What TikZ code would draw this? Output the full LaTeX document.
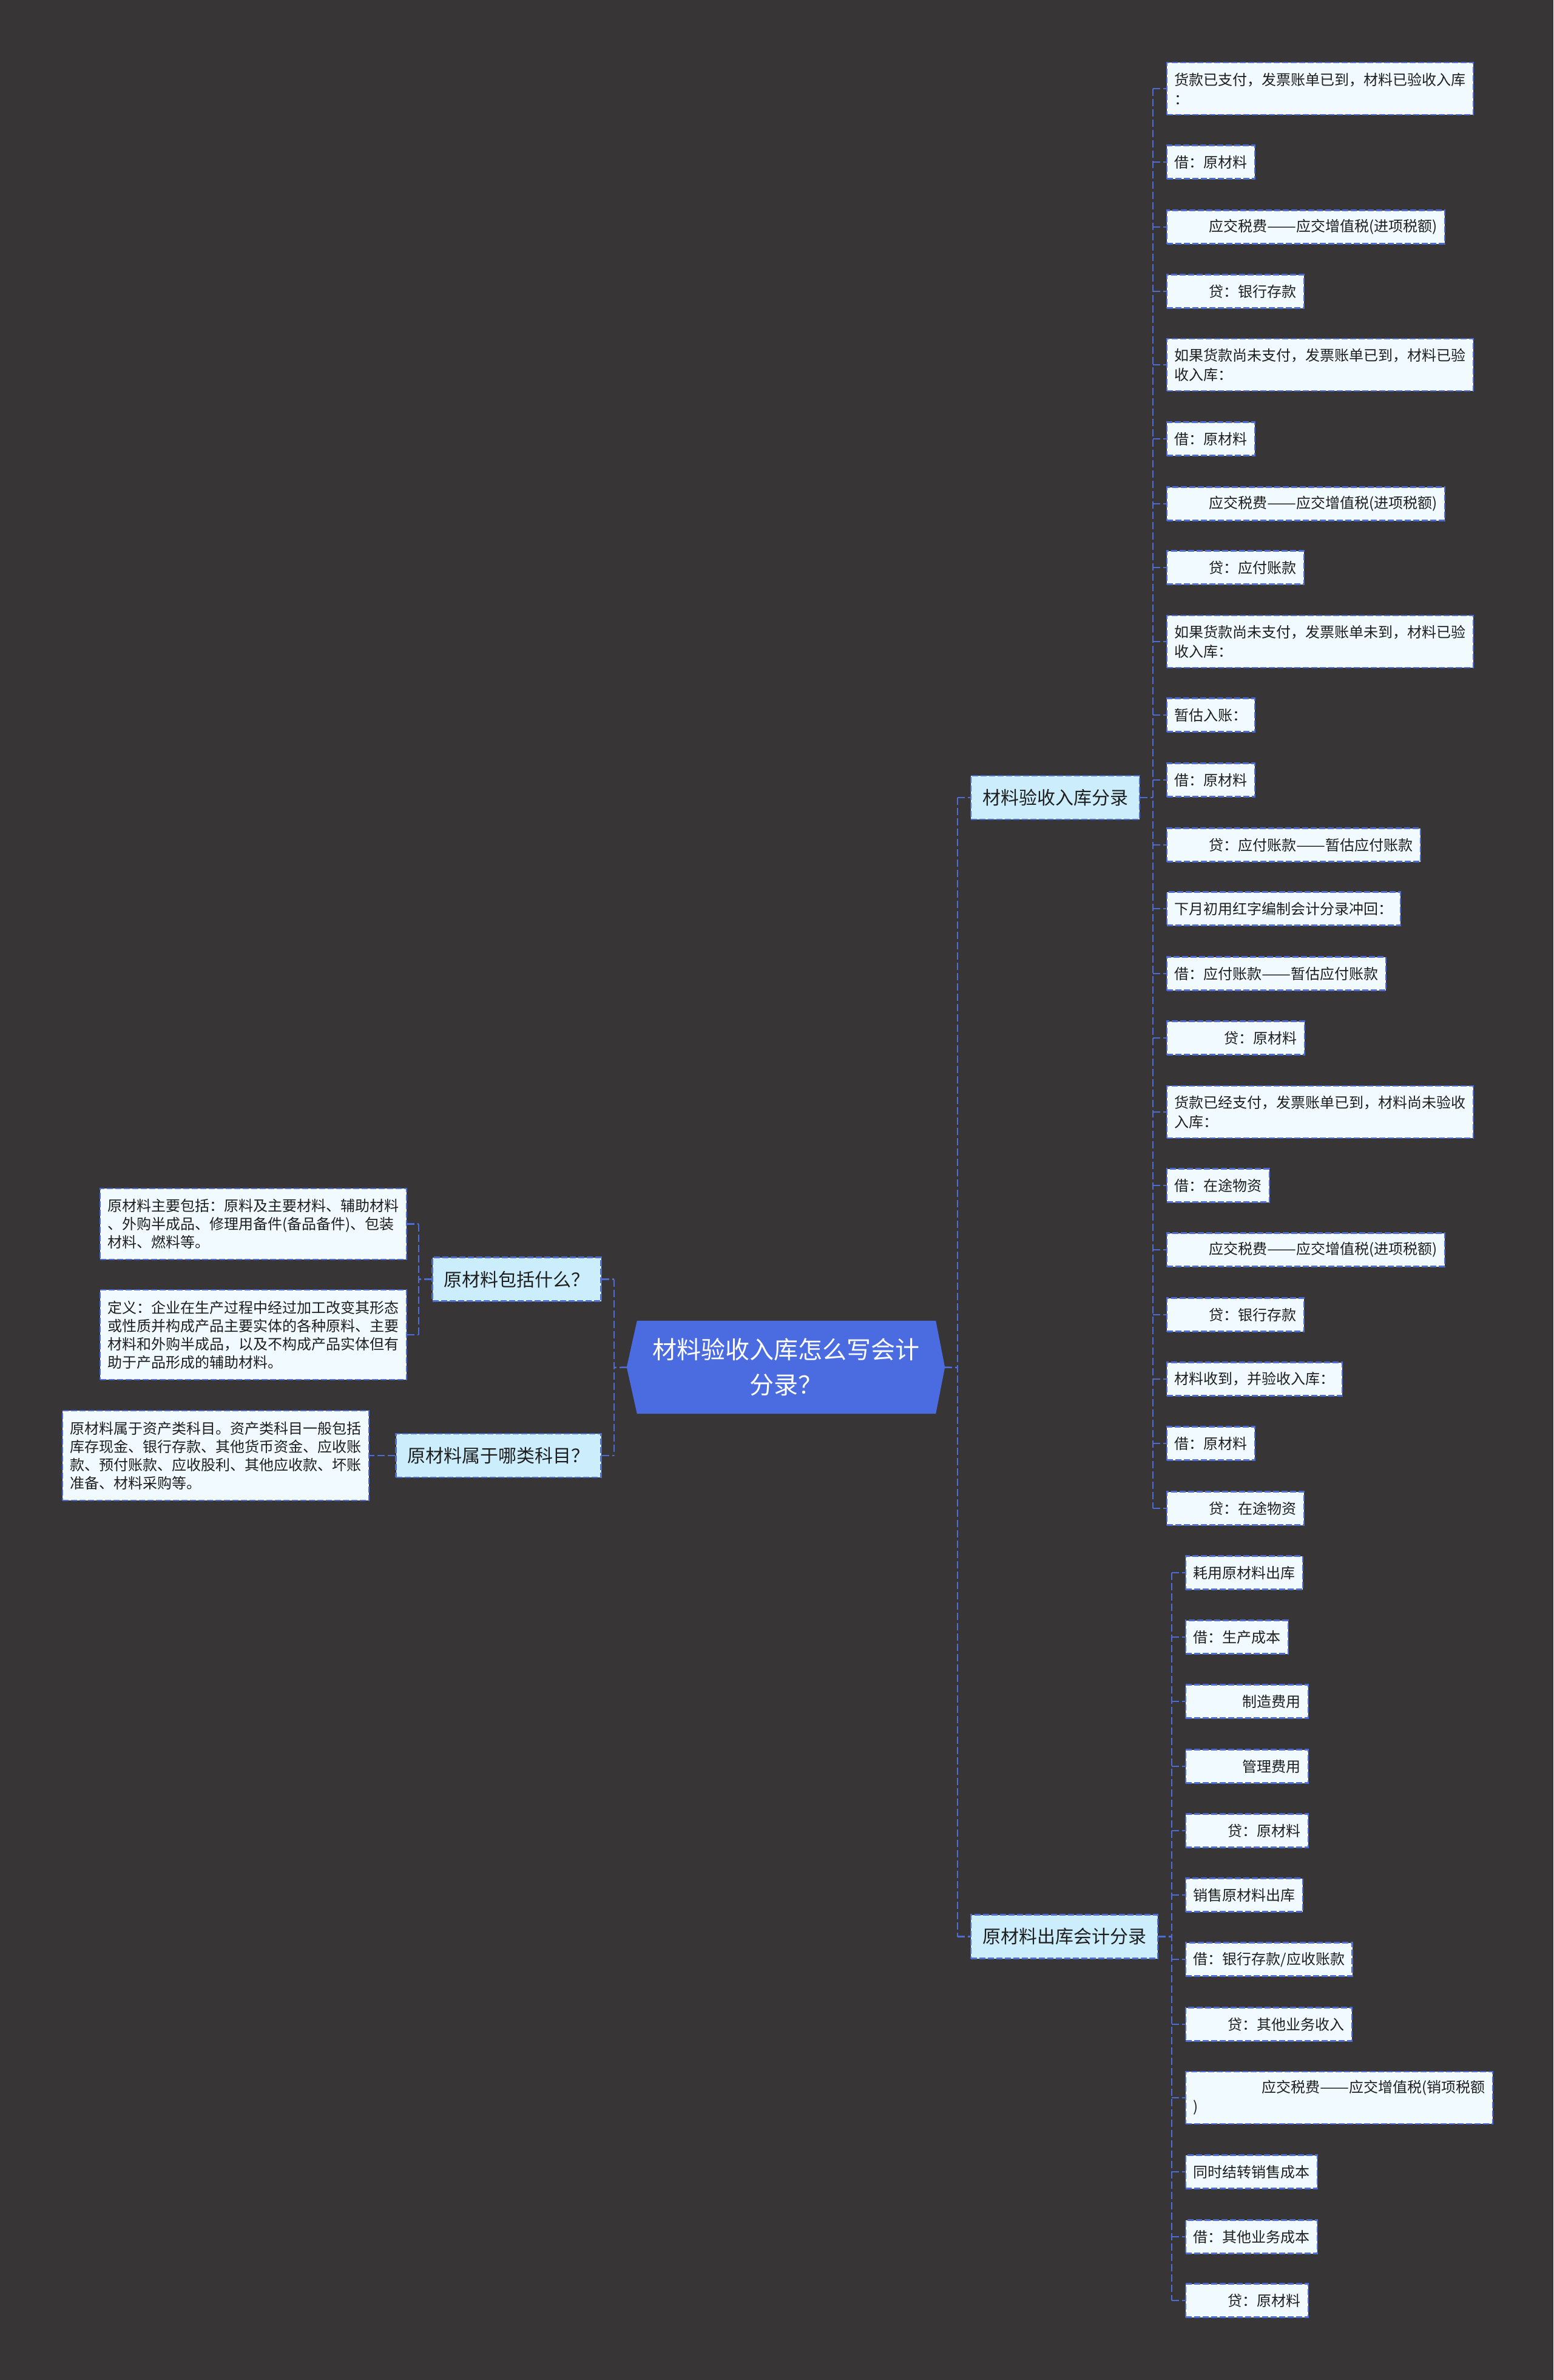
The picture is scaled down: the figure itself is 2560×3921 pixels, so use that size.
\documentclass[tikz,border=0pt]{standalone}
\usepackage{fontspec}
\usepackage{graphicx}
\setmainfont{Noto Sans CJK SC}
\usetikzlibrary{backgrounds}
\definecolor{bgc}{RGB}{55,53,54}
\definecolor{linec}{RGB}{78,108,214}
\definecolor{rootc}{RGB}{74,108,224}
\definecolor{lonec}{RGB}{204,237,252}
\definecolor{leafc}{RGB}{241,251,255}
\definecolor{txtc}{RGB}{30,30,30}
\newcommand{\myind}[1]{\hspace*{#1pt}}
\newcommand{\dd}{\resizebox{48pt}{\height}{——}}
\tikzset{
 conn/.style={draw=linec, line width=2.5pt, dash pattern=on 12pt off 5pt},
 boxline/.style={draw=linec, line width=2.2pt, dash pattern=on 10pt off 4pt},
 leafbox/.style={boxline, fill=leafc, text=txtc, align=left, anchor=west, inner xsep=12.5pt, inner ysep=8pt, minimum height=55pt, font=\fontsize{24}{32}\selectfont},
 twoline/.style={minimum height=86pt},
 notebox/.style={leafbox, font=\fontsize{24}{30}\selectfont},
 topicbox/.style={boxline, fill=lonec, text=txtc, inner xsep=19pt, minimum height=72pt, font=\fontsize{30}{36}\selectfont},
 rootnode/.style={text=white, align=center, minimum width=524pt, minimum height=153pt, font=\fontsize{40}{58}\selectfont},
}
\begin{document}
\begin{tikzpicture}[x=1pt,y=-1pt]
\begin{pgfonlayer}{background}
\fill[bgc] (0,0) rectangle (2560,3921);
\end{pgfonlayer}
\useasboundingbox (0,0) rectangle (2560,3921);

% root
\node[rootnode] (root) at (1295,2252.5) {材料验收入库怎么写会计\\分录？};
\begin{pgfonlayer}{background}
\fill[rootc] (root.west) -- ([xshift=17pt]root.north west) -- ([xshift=-15pt]root.north east)
  -- (root.east) -- ([xshift=-15pt]root.south east) -- ([xshift=17pt]root.south west) -- cycle;
\end{pgfonlayer}

% level 1
\node[topicbox] (ta) at (851.5,2107.5) {原材料包括什么？};
\node[topicbox] (tb) at (821.5,2398) {原材料属于哪类科目？};
\node[topicbox] (tc) at (1739,1314) {材料验收入库分录};
\node[topicbox] (td) at (1754,3190.5) {原材料出库会计分录};

% left notes
\node[notebox, minimum height=117pt] (na) at (164,2016.5) {原材料主要包括：原料及主要材料、辅助材料\\、外购半成品、修理用备件(备品备件)、包装\\材料、燃料等。};
\node[notebox, minimum height=148pt] (nb) at (164,2199) {定义：企业在生产过程中经过加工改变其形态\\或性质并构成产品主要实体的各种原料、主要\\材料和外购半成品，以及不构成产品实体但有\\助于产品形成的辅助材料。};
\node[notebox, minimum height=148pt] (nc) at (102,2398) {原材料属于资产类科目。资产类科目一般包括\\库存现金、银行存款、其他货币资金、应收账\\款、预付账款、应收股利、其他应收款、坏账\\准备、材料采购等。};

% group 1 leaves
\node[leafbox,twoline] (g1) at (1922,146) {货款已支付，发票账单已到，材料已验收入库\\：};
\node[leafbox] (g2) at (1922,267) {借：原材料};
\node[leafbox] (g3) at (1922,374) {\myind{56.5}应交税费\dd 应交增值税(进项税额)};
\node[leafbox] (g4) at (1922,480) {\myind{57}贷：银行存款};
\node[leafbox,twoline] (g5) at (1922,601) {如果货款尚未支付，发票账单已到，材料已验\\收入库：};
\node[leafbox] (g6) at (1922,723) {借：原材料};
\node[leafbox] (g7) at (1922,830) {\myind{56.5}应交税费\dd 应交增值税(进项税额)};
\node[leafbox] (g8) at (1922,935) {\myind{57}贷：应付账款};
\node[leafbox,twoline] (g9) at (1922,1057) {如果货款尚未支付，发票账单未到，材料已验\\收入库：};
\node[leafbox] (g10) at (1922,1178) {暂估入账：};
\node[leafbox] (g11) at (1922,1285) {借：原材料};
\node[leafbox] (g12) at (1922,1392) {\myind{57}贷：应付账款\dd 暂估应付账款};
\node[leafbox] (g13) at (1922,1497) {下月初用红字编制会计分录冲回：};
\node[leafbox] (g14) at (1922,1604) {借：应付账款\dd 暂估应付账款};
\node[leafbox] (g15) at (1922,1710) {\myind{81.5}贷：原材料};
\node[leafbox,twoline] (g16) at (1922,1832) {货款已经支付，发票账单已到，材料尚未验收\\入库：};
\node[leafbox] (g17) at (1922,1953) {借：在途物资};
\node[leafbox] (g18) at (1922,2059) {\myind{56.5}应交税费\dd 应交增值税(进项税额)};
\node[leafbox] (g19) at (1922,2166) {\myind{57}贷：银行存款};
\node[leafbox] (g20) at (1922,2272) {材料收到，并验收入库：};
\node[leafbox] (g21) at (1922,2378) {借：原材料};
\node[leafbox] (g22) at (1922,2485) {\myind{57}贷：在途物资};

% group 2 leaves
\node[leafbox] (h1) at (1953,2591) {耗用原材料出库};
\node[leafbox] (h2) at (1953,2697) {借：生产成本};
\node[leafbox] (h3) at (1953,2803) {\myind{80.5}制造费用};
\node[leafbox] (h4) at (1953,2910) {\myind{80.5}管理费用};
\node[leafbox] (h5) at (1953,3016) {\myind{56.5}贷：原材料};
\node[leafbox] (h6) at (1953,3122) {销售原材料出库};
\node[leafbox] (h7) at (1953,3228) {借：银行存款/应收账款};
\node[leafbox] (h8) at (1953,3335) {\myind{56.5}贷：其他业务收入};
\node[leafbox,twoline] (h9) at (1953,3456) {\myind{112.5}应交税费\dd 应交增值税(销项税额\\)};
\node[leafbox] (h10) at (1953,3578) {同时结转销售成本};
\node[leafbox] (h11) at (1953,3685) {借：其他业务成本};
\node[leafbox] (h12) at (1953,3790) {\myind{56.5}贷：原材料};

% junctions
\coordinate (jl) at (1012,2253);
\coordinate (ja) at (690,2107.5);
\coordinate (jr) at (1578,2253);
\coordinate (jc) at (1900,1314);
\coordinate (jd) at (1931,3190.5);

% left connectors
\draw[conn] (root.west) -- (jl);
\draw[conn] (ta.east -| jl) -- (tb.east -| jl);
\draw[conn] (ta.east) -- (ta.east -| jl);
\draw[conn] (tb.east) -- (tb.east -| jl);
\draw[conn] (ta.west) -- (ja);
\draw[conn] (na.east -| ja) -- (nb.east -| ja);
\draw[conn] (na.east) -- (na.east -| ja);
\draw[conn] (nb.east) -- (nb.east -| ja);
\draw[conn] (tb.west) -- (nc.east);

% right connectors
\draw[conn] (root.east) -- (jr);
\draw[conn] (tc.west -| jr) -- (td.west -| jr);
\draw[conn] (tc.west -| jr) -- (tc.west);
\draw[conn] (td.west -| jr) -- (td.west);

\draw[conn] (tc.east) -- (jc);
\draw[conn] (g1.west -| jc) -- (g22.west -| jc);
\foreach \n in {g1,g2,g3,g4,g5,g6,g7,g8,g9,g10,g11,g12,g13,g14,g15,g16,g17,g18,g19,g20,g21,g22}
  \draw[conn] (\n.west -| jc) -- (\n.west);

\draw[conn] (td.east) -- (jd);
\draw[conn] (h1.west -| jd) -- (h12.west -| jd);
\foreach \n in {h1,h2,h3,h4,h5,h6,h7,h8,h9,h10,h11,h12}
  \draw[conn] (\n.west -| jd) -- (\n.west);
\end{tikzpicture}
\end{document}
